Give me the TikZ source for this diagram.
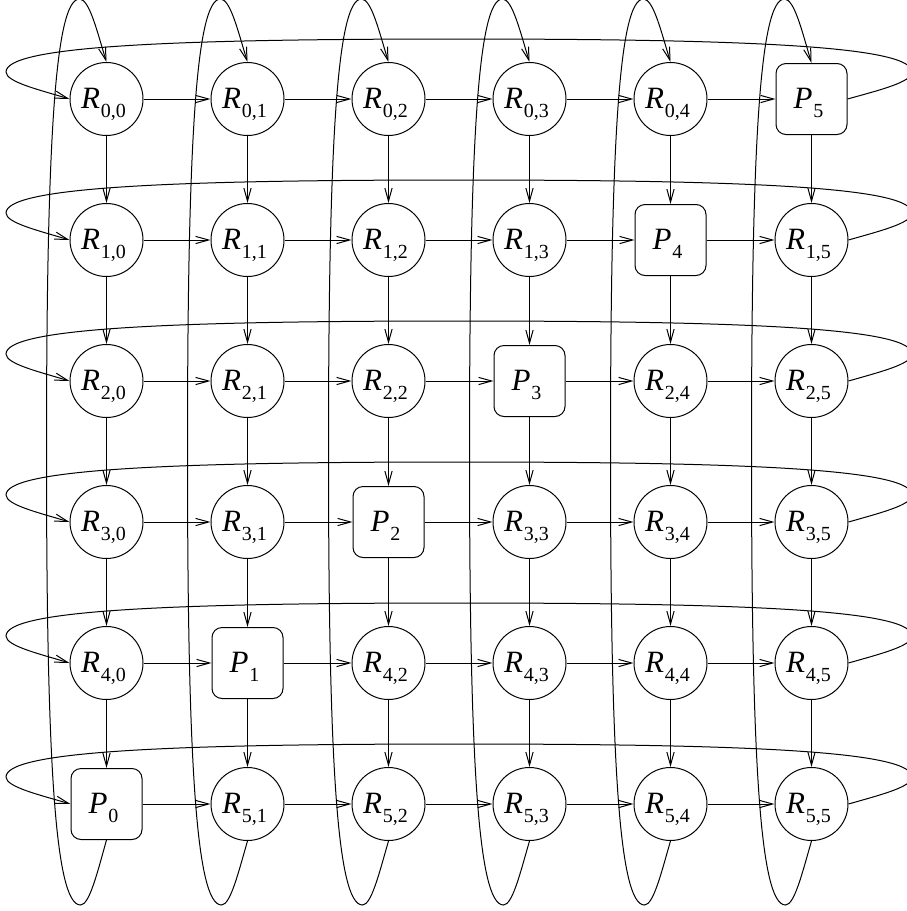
\documentclass[tikz,border=0pt]{standalone}
\usepackage{fontspec}
\setmainfont{Liberation Serif}
\usetikzlibrary{arrows.meta}
\newcommand\nlab[2]{\textit{#1}\kern0.5pt\raisebox{-4.5pt}{\fontsize{10}{10}\selectfont #2}\kern3pt}
\begin{document}
\begin{tikzpicture}[x=0.5pt,y=-0.5pt,line width=0.5pt,>={Straight Barb[length=6.5pt,width=3.6pt]},
  router/.style={circle,draw,minimum size=36.5pt,inner sep=0pt,text height=9.3pt,text depth=0pt,font=\fontsize{15.5}{18}\selectfont},
  proc/.style={rectangle,rounded corners=5pt,draw,minimum size=35.5pt,inner sep=0pt,text height=9.3pt,text depth=0pt,font=\fontsize{15.5}{18}\selectfont}]
\useasboundingbox (0,0) rectangle (906,911);
\foreach \i in {0,...,5} {\foreach \j in {0,...,5} {
  \pgfmathtruncatemacro\k{5-\i}
  \ifnum\j=\k \def\kind{proc}\def\lab{\nlab{P}{\j}}\else \def\kind{router}\def\lab{\nlab{R}{\i,\j}}\fi
  \node[\kind] (n\i\j) at ({106.5+141*\j},{99+141*\i}) {\lab};
}}
\foreach \i in {0,...,5} {\foreach \j [evaluate=\j as \jn using int(\j+1)] in {0,...,4} {
  \draw[->] (n\i\j) -- (n\i\jn);
  \draw[->] (n\j\i) -- (n\jn\i);
}}
\foreach \i in {0,...,5} {
  \pgfmathsetmacro\y{99+141*\i}
  \pgfmathsetmacro\x{106.5+141*\i}
  \draw[->] (n\i5.east) .. controls (880,{\y-9}) and (912,{\y-17}) .. (912,{\y-27})
    .. controls (912,{\y-52}) and (761,{\y-60}) .. (459,{\y-60})
    .. controls (157,{\y-60}) and (6,{\y-52}) .. (6,{\y-27})
    .. controls (6,{\y-17}) and (40,{\y-9}) .. (n\i0.west);
  \draw[->] (n5\i.south) .. controls ({\x-9},872) and ({\x-17},905) .. ({\x-26},905)
    .. controls ({\x-52},905) and ({\x-60},754) .. ({\x-60},452)
    .. controls ({\x-60},150) and ({\x-52},-1) .. ({\x-27},-1)
    .. controls ({\x-17},-1) and ({\x-9},33) .. (n0\i.north);
}
\end{tikzpicture}
\end{document}
